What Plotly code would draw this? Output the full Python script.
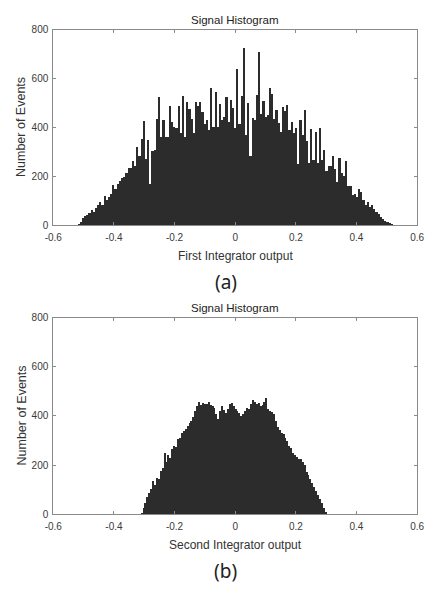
import numpy as np
import plotly.graph_objects as go

# ---------------- data ----------------
# (a) First integrator histogram: counts per bin over [-0.52, 0.52]
top_range = [-0.52, 0.52]
top_counts = [
    5, 16, 29, 39, 43, 50, 63, 56, 73, 83, 96, 85, 119, 103, 116, 129, 165, 149, 169, 183,
    193, 196, 216, 236, 236, 265, 243, 320, 283, 352, 427, 272, 349, 169, 303, 309, 436, 525, 363, 432,
    363, 363, 489, 423, 403, 396,
    489, 376, 529, 363, 503, 476, 436, 376, 503, 489, 503, 463, 416, 429, 389, 563, 403, 543, 403, 496,
    429, 443, 523, 423, 512, 480, 396, 639, 416, 529, 725, 369, 499, 283, 439, 429, 532, 709, 456, 509,
    443, 449, 560, 536, 436, 472, 419, 383, 485, 469,
    492, 389, 423, 376, 396, 249, 429, 369, 472, 343, 256, 392, 269, 380, 256, 399, 269, 307, 223, 243,
    243, 285, 229, 176, 276, 216, 203, 263, 163, 160, 123, 129, 116, 149, 136, 103, 83, 96, 76, 85,
    69, 56, 45, 36, 27, 19, 13, 8, 5,
]

# (b) Second integrator histogram: counts per bin over [-0.312, 0.302]
bot_range = [-0.312, 0.302]
bot_counts = [
    5, 28, 45, 70, 89, 105, 135, 120, 150, 145, 175, 190, 250, 215, 240, 230, 265, 280, 275, 305,
    312, 330, 340, 348, 360, 370, 378, 395, 420, 440, 455, 445, 452, 448, 450, 455, 445, 440, 432, 410,
    388, 420, 440, 425, 414, 430, 448, 452, 440, 430, 421, 414, 400, 407, 420, 434, 430, 448, 463, 455,
    450, 453, 440, 445, 455, 472, 430, 421, 418, 410, 380, 354, 345, 330, 325, 310, 300, 280, 268, 250,
    240, 232, 226, 225, 215, 200, 172, 160, 142, 128, 112, 95, 80, 62, 45, 26, 8,
]

x_ticks = [-0.6, -0.4, -0.2, 0, 0.2, 0.4, 0.6]
x_ticklabels = ["-0.6", "-0.4", "-0.2", "0", "0.2", "0.4", "0.6"]
y_ticks = [0, 200, 400, 600, 800]
titles = ["Signal Histogram", "Signal Histogram"]
x_titles = ["First Integrator output", "Second Integrator output"]
y_title = "Number of Events"
panel_labels = ["(a)", "(b)"]


def centers(rng, n):
    w = (rng[1] - rng[0]) / n
    return [rng[0] + (i + 0.5) * w for i in range(n)], w


W, H = 427, 590
BAR = "#2c2c2c"

fig = go.Figure()
xc, wt = centers(top_range, len(top_counts))
fig.add_trace(go.Bar(x=xc, y=top_counts, width=wt, marker=dict(color=BAR, line=dict(width=0)),
                     xaxis="x", yaxis="y", showlegend=False, hoverinfo="skip"))
xc2, wb = centers(bot_range, len(bot_counts))
fig.add_trace(go.Bar(x=xc2, y=bot_counts, width=wb, marker=dict(color=BAR, line=dict(width=0)),
                     xaxis="x2", yaxis="y2", showlegend=False, hoverinfo="skip"))


def py(p):  # pixel from top -> paper y
    return 1 - p / H


def px(p):
    return p / W


tickfont = dict(family="Liberation Sans, Arial, sans-serif", size=10, color="#3a3a3a")
axcommon = dict(showline=True, linecolor="#8a8a8a", linewidth=1, mirror="ticks",
                ticks="inside", ticklen=3, tickcolor="#8a8a8a", showgrid=False,
                zeroline=False, tickfont=tickfont, ticklabeloverflow="allow")

# plot area pixel boxes
L, R = 46, 424
boxes = [(24, 224), (318, 519)]

layout = dict(width=W, height=H, margin=dict(l=0, r=0, t=0, b=0),
              paper_bgcolor="white", plot_bgcolor="white", bargap=0, hovermode=False)
for k, (t, b) in enumerate(boxes):
    sfx = "" if k == 0 else "2"
    layout["xaxis" + sfx] = dict(domain=[px(L), px(R)], range=[-0.6, 0.6], tickvals=x_ticks,
                                 ticktext=x_ticklabels, anchor="y" + sfx, ticklabelstandoff=3,
                                 **axcommon)
    layout["yaxis" + sfx] = dict(domain=[py(b), py(t)], range=[0, 800], tickvals=y_ticks,
                                 anchor="x" + sfx, ticklabelstandoff=2, **axcommon)
fig.update_layout(**layout)

ann = []
tfont = dict(family="Liberation Sans, Arial, sans-serif", size=11.5, color="#222222")
afont = dict(family="Liberation Sans, Arial, sans-serif", size=12, color="#333333")
yfont = dict(family="Liberation Sans, Arial, sans-serif", size=12.5, color="#333333")
for k, (t, b) in enumerate(boxes):
    cx = px((L + R) / 2)
    ann.append(dict(text=titles[k], x=cx, y=py(t - 10), xref="paper", yref="paper",
                    showarrow=False, font=tfont, xanchor="center", yanchor="middle"))
    ann.append(dict(text=x_titles[k], x=cx, y=py(b + 31), xref="paper", yref="paper",
                    showarrow=False, font=afont, xanchor="center", yanchor="middle"))
    ann.append(dict(text=y_title, x=px(13), y=py((t + b) / 2), xref="paper", yref="paper",
                    showarrow=False, font=yfont, textangle=-90, xanchor="center", yanchor="middle"))
    ann.append(dict(text=panel_labels[k], x=px(225), y=py(b + 58), xref="paper", yref="paper",
                    showarrow=False, font=dict(family="Noto Sans, sans-serif", size=19, color="#222222"),
                    xanchor="center", yanchor="middle"))
fig.update_layout(annotations=ann)

fig.write_html("out.html", config={"displayModeBar": False, "staticPlot": True},
               post_script="document.body.style.margin='0';document.body.style.overflow='hidden';")
